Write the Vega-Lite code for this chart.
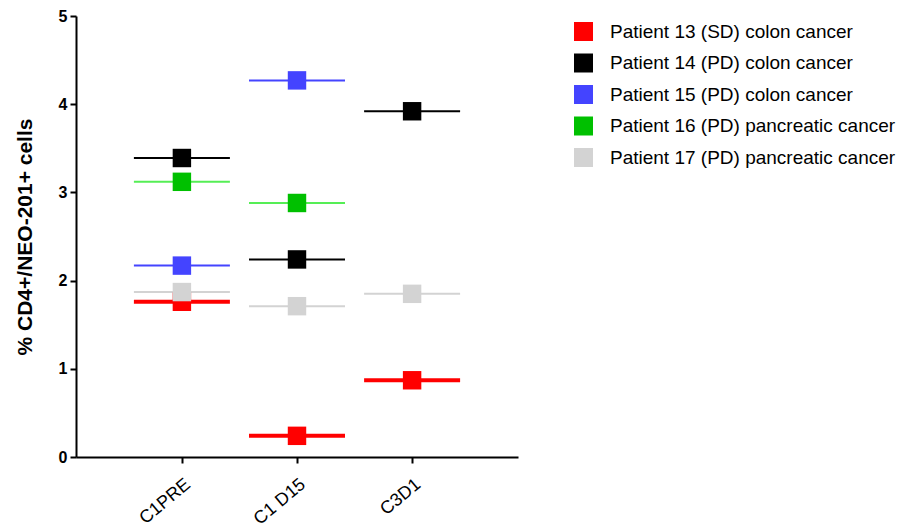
{
  "$schema": "https://vega.github.io/schema/vega-lite/v6.json",
  "width": 442,
  "height": 441,
  "autosize": {"type": "none"},
  "padding": {"left": 76, "top": 16, "right": 389, "bottom": 70},
  "background": "white",
  "config": {
    "view": {"stroke": null},
    "font": "Liberation Sans",
    "axis": {"grid": false, "domainColor": "black", "tickColor": "black", "domainWidth": 2, "tickWidth": 2, "labelColor": "black", "titleColor": "black"}
  },
  "data": {
    "values": [
      {"timepoint": "C1PRE", "patient": "Patient 13 (SD) colon cancer", "value": 1.76},
      {"timepoint": "C1PRE", "patient": "Patient 14 (PD) colon cancer", "value": 3.39},
      {"timepoint": "C1PRE", "patient": "Patient 15 (PD) colon cancer", "value": 2.17},
      {"timepoint": "C1PRE", "patient": "Patient 16 (PD) pancreatic cancer", "value": 3.12},
      {"timepoint": "C1PRE", "patient": "Patient 17 (PD) pancreatic cancer", "value": 1.87},
      {"timepoint": "C1 D15", "patient": "Patient 13 (SD) colon cancer", "value": 0.24},
      {"timepoint": "C1 D15", "patient": "Patient 14 (PD) colon cancer", "value": 2.24},
      {"timepoint": "C1 D15", "patient": "Patient 15 (PD) colon cancer", "value": 4.27},
      {"timepoint": "C1 D15", "patient": "Patient 16 (PD) pancreatic cancer", "value": 2.88},
      {"timepoint": "C1 D15", "patient": "Patient 17 (PD) pancreatic cancer", "value": 1.71},
      {"timepoint": "C3D1", "patient": "Patient 13 (SD) colon cancer", "value": 0.87},
      {"timepoint": "C3D1", "patient": "Patient 14 (PD) colon cancer", "value": 3.92},
      {"timepoint": "C3D1", "patient": "Patient 17 (PD) pancreatic cancer", "value": 1.85}
    ]
  },
  "encoding": {
    "x": {
      "field": "timepoint", "type": "nominal", "sort": ["C1PRE", "C1 D15", "C3D1"],
      "scale": {"type": "point", "padding": 0.92},
      "axis": {"title": null, "labelAngle": -40, "labelFontSize": 18, "labelPadding": 12, "tickSize": 6}
    },
    "y": {
      "field": "value", "type": "quantitative",
      "scale": {"domain": [0, 5], "nice": false, "zero": true},
      "axis": {"title": "% CD4+/NEO-201+ cells", "values": [0, 1, 2, 3, 4, 5], "tickSize": 6, "labelFontSize": 16, "labelFontWeight": "bold", "labelPadding": 3, "titleFontSize": 21, "titleFontWeight": "bold", "titleX": -51, "titleBaseline": "middle"}
    }
  },
  "layer": [
    {
      "transform": [{"filter": "datum.patient !== 'Patient 13 (SD) colon cancer'"}],
      "mark": {"type": "tick", "size": 96, "thickness": 2, "opacity": 1},
      "encoding": {
        "color": {
          "field": "patient", "type": "nominal",
          "scale": {"domain": ["Patient 13 (SD) colon cancer", "Patient 14 (PD) colon cancer", "Patient 15 (PD) colon cancer", "Patient 16 (PD) pancreatic cancer", "Patient 17 (PD) pancreatic cancer"], "range": ["#FF0000", "#000000", "#4444FF", "#55EE55", "#D3D3D3"]},
          "legend": null
        }
      }
    },
    {
      "transform": [{"filter": "datum.patient === 'Patient 13 (SD) colon cancer'"}],
      "mark": {"type": "tick", "size": 96, "thickness": 4, "color": "#FF0000", "opacity": 1},
      "encoding": {}
    },
    {
      "mark": {"type": "point", "shape": "square", "filled": true, "size": 340, "opacity": 1},
      "encoding": {
        "fill": {
          "field": "patient", "type": "nominal",
          "scale": {"domain": ["Patient 13 (SD) colon cancer", "Patient 14 (PD) colon cancer", "Patient 15 (PD) colon cancer", "Patient 16 (PD) pancreatic cancer", "Patient 17 (PD) pancreatic cancer"], "range": ["#FF0000", "#000000", "#4444FF", "#00C000", "#D3D3D3"]},
          "legend": {
            "title": null, "orient": "none", "legendX": 498, "legendY": 6,
            "symbolType": "square", "symbolSize": 361, "symbolStrokeWidth": 0, "symbolOpacity": 1,
            "labelFontSize": 19, "labelOffset": 17, "rowPadding": 11.5, "padding": 0, "labelLimit": 400, "labelColor": "black"
          }
        }
      }
    }
  ],
  "resolve": {"scale": {"color": "independent"}}
}
